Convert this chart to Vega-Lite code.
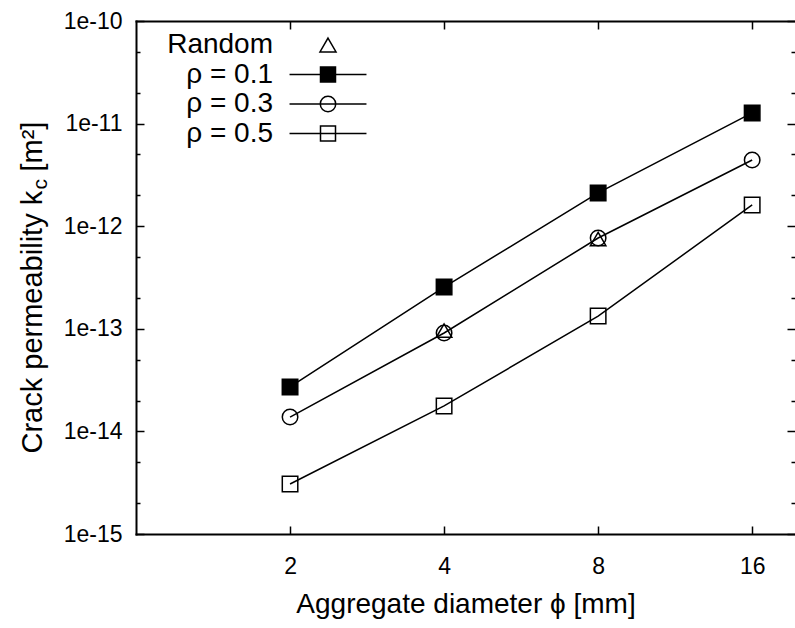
{
  "$schema": "https://vega.github.io/schema/vega-lite/v6.json",
  "width": 659,
  "height": 513,
  "autosize": {"type": "none"},
  "padding": {"left": 136, "top": 21, "right": 0, "bottom": 94},
  "background": "white",
  "config": {
    "view": {"stroke": null},
    "font": "Liberation Sans",
    "axis": {"grid": false, "labelColor": "black", "titleColor": "black", "tickColor": "black", "domainColor": "black", "titleFontWeight": "normal", "tickWidth": 1.5, "domainWidth": 2, "domainCap": "square"}
  },
  "data": {
    "values": [
      {"series": "Random", "d": 4, "k": 9.6e-14},
      {"series": "Random", "d": 8, "k": 7.5e-13},
      {"series": "ρ = 0.1", "d": 2, "k": 2.71e-14},
      {"series": "ρ = 0.1", "d": 4, "k": 2.55e-13},
      {"series": "ρ = 0.1", "d": 8, "k": 2.11e-12},
      {"series": "ρ = 0.1", "d": 16, "k": 1.27e-11},
      {"series": "ρ = 0.3", "d": 2, "k": 1.38e-14},
      {"series": "ρ = 0.3", "d": 4, "k": 9.1e-14},
      {"series": "ρ = 0.3", "d": 8, "k": 7.67e-13},
      {"series": "ρ = 0.3", "d": 16, "k": 4.42e-12},
      {"series": "ρ = 0.5", "d": 2, "k": 3.07e-15},
      {"series": "ρ = 0.5", "d": 4, "k": 1.77e-14},
      {"series": "ρ = 0.5", "d": 8, "k": 1.33e-13},
      {"series": "ρ = 0.5", "d": 16, "k": 1.61e-12}
    ]
  },
  "layer": [
    {
      "transform": [{"filter": "datum.series !== 'Random'"}],
      "mark": {"type": "line", "stroke": "black", "strokeWidth": 1.5},
      "encoding": {
        "x": {
          "field": "d", "type": "quantitative",
          "scale": {"type": "log", "base": 2, "domain": [1, 19.4], "nice": false},
          "axis": {
            "orient": "bottom", "offset": -8, "values": [2, 4, 8, 16], "format": "d",
            "ticks": true, "tickSize": 8, "domain": false,
            "labelFontSize": 23, "labelPadding": 21, "labelFlush": false,
            "title": null
          }
        },
        "y": {
          "field": "k", "type": "quantitative",
          "scale": {"type": "log", "domain": [1e-15, 1e-10], "nice": false},
          "axis": {
            "orient": "left", "offset": -8,
            "values": [1e-15, 1e-14, 1e-13, 1e-12, 1e-11, 1e-10],
            "labelExpr": "'1e' + round(log(datum.value)/LN10)",
            "labelOverlap": false, "labelFlush": false,
            "ticks": true, "tickSize": 8, "domain": false,
            "labelFontSize": 23, "labelPadding": 14,
            "title": null
          }
        },
        "detail": {"field": "series"}
      }
    },
    {
      "mark": {"type": "point", "stroke": "black", "strokeWidth": 1.5, "opacity": 1, "size": 240},
      "encoding": {
        "x": {
          "field": "d", "type": "quantitative",
          "scale": {"type": "log", "base": 2, "domain": [1, 19.4], "nice": false},
          "axis": {
            "orient": "top", "offset": -8, "values": [2, 4, 8, 16], "labels": false,
            "ticks": true, "tickSize": 8, "domain": false, "title": null
          }
        },
        "y": {
          "field": "k", "type": "quantitative",
          "scale": {"type": "log", "domain": [1e-15, 1e-10], "nice": false},
          "axis": {
            "orient": "right", "offset": -8,
            "values": [1e-15, 1e-14, 1e-13, 1e-12, 1e-11, 1e-10],
            "labels": false, "domain": false, "ticks": true, "tickSize": 8,
            "title": "c", "titleFontSize": 21,
            "titleAngle": 270, "titleAlign": "left", "titleBaseline": "alphabetic",
            "titleX": -741, "titleY": 168
          }
        },
        "shape": {
          "field": "series", "type": "nominal",
          "scale": {"domain": ["Random", "ρ = 0.1", "ρ = 0.3", "ρ = 0.5"], "range": ["triangle-up", "square", "circle", "square"]},
          "legend": null
        },
        "fill": {
          "field": "series", "type": "nominal",
          "scale": {"domain": ["Random", "ρ = 0.1", "ρ = 0.3", "ρ = 0.5"], "range": ["transparent", "black", "transparent", "transparent"]},
          "legend": null
        }
      }
    },
    {
      "transform": [{"filter": "false"}],
      "mark": {"type": "point", "strokeWidth": 1.5, "opacity": 1, "size": 225},
      "encoding": {
        "x": {
          "field": "d", "type": "quantitative",
          "scale": {"type": "log", "base": 2, "domain": [1, 19.4], "nice": false},
          "axis": {
            "orient": "bottom", "values": [], "ticks": false, "labels": false, "domain": true,
            "title": "Aggregate diameter ϕ [mm]", "titleFontSize": 28,
            "titleBaseline": "alphabetic", "titleY": 78
          }
        },
        "y": {
          "field": "k", "type": "quantitative",
          "scale": {"type": "log", "domain": [1e-15, 1e-10], "nice": false},
          "axis": {
            "orient": "left", "values": [], "ticks": false, "labels": false, "domain": true,
            "title": "Crack permeability k", "titleFontSize": 29,
            "titleAngle": 270, "titleAlign": "left", "titleBaseline": "alphabetic",
            "titleX": -95, "titleY": 432
          }
        },
        "shape": {
          "field": "series", "type": "nominal",
          "scale": {
            "domain": ["Random", "ρ = 0.1", "ρ = 0.3", "ρ = 0.5"],
            "range": [
              "M0,-0.93L1.07,0.93L-1.07,0.93Z",
              "M-5.13,0H5.13M-1,-1H1V1H-1Z",
              "M-5.13,0H5.13M1.03,0A1.03,1.03,0,1,1,-1.03,0A1.03,1.03,0,1,1,1.03,0Z",
              "M-5.13,0H5.13M-1,-1H1V1H-1Z"
            ]
          },
          "legend": {
            "orient": "none", "legendX": 178, "legendY": 10, "title": null,
            "labelFontSize": 28, "labelColor": "black", "labelAlign": "right", "labelOffset": -69,
            "symbolSize": 225, "symbolStrokeWidth": 1.5, "symbolStrokeColor": "black",
            "rowPadding": 1.5, "padding": 0
          }
        },
        "fill": {
          "field": "series", "type": "nominal",
          "scale": {"domain": ["Random", "ρ = 0.1", "ρ = 0.3", "ρ = 0.5"], "range": ["transparent", "black", "transparent", "transparent"]},
          "legend": {
            "orient": "none", "legendX": 178, "legendY": 10, "title": null,
            "labelFontSize": 28, "labelColor": "black", "labelAlign": "right", "labelOffset": -69,
            "symbolSize": 225, "symbolStrokeWidth": 1.5, "symbolStrokeColor": "black",
            "rowPadding": 1.5, "padding": 0
          }
        },
        "stroke": {
          "field": "series", "type": "nominal",
          "scale": {"domain": ["Random", "ρ = 0.1", "ρ = 0.3", "ρ = 0.5"], "range": ["black", "black", "black", "black"]},
          "legend": {
            "orient": "none", "legendX": 178, "legendY": 10, "title": null,
            "labelFontSize": 28, "labelColor": "black", "labelAlign": "right", "labelOffset": -69,
            "symbolSize": 225, "symbolStrokeWidth": 1.5, "symbolStrokeColor": "black",
            "rowPadding": 1.5, "padding": 0
          }
        }
      }
    },
    {
      "transform": [{"filter": "false"}],
      "mark": {"type": "point"},
      "encoding": {
        "x": {
          "field": "d", "type": "quantitative",
          "scale": {"type": "log", "base": 2, "domain": [1, 19.4], "nice": false},
          "axis": {
            "orient": "top", "values": [], "ticks": false, "labels": false, "domain": true,
            "title": "[m²]", "titleFontSize": 29,
            "titleAngle": 270, "titleAlign": "left", "titleBaseline": "alphabetic",
            "titleX": -95, "titleY": 150
          }
        },
        "y": {
          "field": "k", "type": "quantitative",
          "scale": {"type": "log", "domain": [1e-15, 1e-10], "nice": false},
          "axis": {
            "orient": "left", "offset": -4,
            "values": [2e-15, 5e-15, 2e-14, 5e-14, 2e-13, 5e-13, 2e-12, 5e-12, 2e-11, 5e-11],
            "ticks": true, "tickSize": 4, "labels": false, "domain": false, "title": null
          }
        }
      }
    },
    {
      "transform": [{"filter": "false"}],
      "mark": {"type": "point"},
      "encoding": {
        "x": {
          "field": "d", "type": "quantitative",
          "scale": {"type": "log", "base": 2, "domain": [1, 19.4], "nice": false},
          "axis": null
        },
        "y": {
          "field": "k", "type": "quantitative",
          "scale": {"type": "log", "domain": [1e-15, 1e-10], "nice": false},
          "axis": {
            "orient": "right", "offset": -4,
            "values": [2e-15, 5e-15, 2e-14, 5e-14, 2e-13, 5e-13, 2e-12, 5e-12, 2e-11, 5e-11],
            "ticks": true, "tickSize": 4, "labels": false, "domain": false, "title": null
          }
        }
      }
    }
  ],
  "resolve": {
    "scale": {"shape": "independent", "fill": "independent", "stroke": "independent"},
    "axis": {"x": "independent", "y": "independent"}
  }
}
